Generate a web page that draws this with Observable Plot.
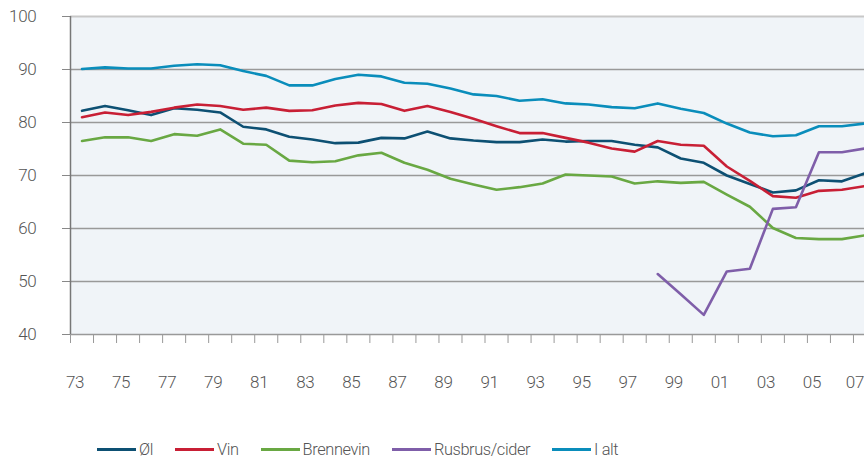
<!DOCTYPE html>
<html>
<head>
<meta charset="utf-8">
<script src="https://cdn.jsdelivr.net/npm/d3@7"></script>
<script src="https://cdn.jsdelivr.net/npm/@observablehq/plot@0.6"></script>
<style>
  html, body { margin: 0; padding: 0; background: #fff; overflow: hidden; width: 864px; height: 459px; }
  #chart { width: 876px; height: 400px; overflow: hidden; }
  #chart svg { display: block; max-width: none !important; width: 876px !important; height: 400px !important; }
  .legend { display: flex; align-items: center; gap: 22px; padding-left: 97px; margin-top: 39px; height: 20px;
    font-family: Roboto, sans-serif; font-weight: 300; font-size: 16.4px; letter-spacing: -0.4px; color: #555; }
  .legend .item { display: flex; align-items: center; gap: 3px; }
  .legend .sw { width: 39px; height: 3px; }
</style>
</head>
<body>
<div id="chart"></div>
<div class="legend" id="legend"></div>
<script>
const years = d3.range(1973, 2008);
const seriesNames = ["Øl", "Vin", "Brennevin", "Rusbrus/cider", "I alt"];
const colors = ["#0d5073", "#c81f35", "#69a843", "#7f5ea9", "#0a8dbb"];

const ol = [82.2, 83.1, 82.3, 81.4, 82.7, 82.4, 81.9, 79.2, 78.7, 77.3, 76.8, 76.1, 76.2, 77.1, 77.0,
  78.3, 77.0, 76.6, 76.3, 76.3, 76.8, 76.4, 76.5, 76.5, 75.8, 75.3, 73.2, 72.4, 70.0, 68.4, 66.8, 67.2, 69.1, 68.9, 70.4];
const vin = [81.0, 81.9, 81.4, 82.0, 82.8, 83.4, 83.1, 82.4, 82.8, 82.2, 82.3, 83.2, 83.7, 83.5, 82.2,
  83.1, 82.0, 80.7, 79.3, 78.0, 78.0, 77.1, 76.2, 75.1, 74.5, 76.5, 75.8, 75.6, 71.7, 69.0, 66.1, 65.8, 67.1, 67.3, 68.0];
const brennevin = [76.5, 77.2, 77.2, 76.5, 77.8, 77.5, 78.7, 76.0, 75.8, 72.8, 72.5, 72.7, 73.8, 74.3, 72.4,
  71.1, 69.4, 68.3, 67.3, 67.8, 68.5, 70.2, 70.0, 69.8, 68.5, 68.9, 68.6, 68.8, 66.4, 64.1, 60.1, 58.2, 58.0, 58.0, 58.7];
const rusbrus = [null, null, null, null, null, null, null, null, null, null, null, null, null, null, null,
  null, null, null, null, null, null, null, null, null, null, 51.4, 47.6, 43.7, 51.9, 52.4, 63.7, 64.0, 74.4, 74.4, 75.1];
const ialt = [90.1, 90.4, 90.2, 90.2, 90.7, 91.0, 90.8, 89.7, 88.8, 87.0, 87.0, 88.2, 89.0, 88.7, 87.5,
  87.3, 86.4, 85.3, 85.0, 84.1, 84.4, 83.6, 83.4, 82.9, 82.7, 83.6, 82.6, 81.8, 79.8, 78.1, 77.4, 77.6, 79.3, 79.3, 79.8];

const yTicks = [40, 50, 60, 70, 80, 90, 100];
const xLabelYears = d3.range(1973, 2006, 2);
const xLastLabel = [2007];
const xLabel = y => String(y % 100).padStart(2, "0");

const allSeries = [ol, vin, brennevin, rusbrus, ialt];
const rows = [];
allSeries.forEach((vals, si) => {
  years.forEach((yr, i) => {
    if (vals[i] != null) rows.push({series: seriesNames[si], year: yr, value: vals[i]});
  });
});
const bounds = d3.range(1972.5, 2008, 1);

const fontFam = 'Roboto, sans-serif';

const chart = Plot.plot({
  width: 876,
  height: 400,
  marginLeft: 70,
  marginRight: 0,
  marginTop: 16,
  marginBottom: 66,
  style: {fontFamily: fontFam, fontSize: "17px", fontWeight: 300, letterSpacing: "-0.3px", color: "#555", background: "transparent"},
  x: {domain: [1972.5, 2007.5]},
  y: {domain: [40, 100]},
  color: {domain: seriesNames, range: colors},
  marks: [
    Plot.frame({fill: "#f0f4f8", stroke: null}),
    Plot.axisY(yTicks, {tickSize: 8, tickPadding: 26, stroke: "#888", fill: "#555", label: null, fontSize: 17}),
    Plot.ruleY(yTicks, {stroke: d => d === 100 ? "#c8c8c8" : "#999", strokeWidth: d => d === 100 ? 2 : 1.5}),
    Plot.ruleX([1972.5], {y1: 40, y2: 100, stroke: "#777", strokeWidth: 1.5}),
    Plot.axisX(bounds, {tickSize: 9, tickFormat: () => "", stroke: "#999", label: null}),
    Plot.axisX(xLabelYears, {tickSize: 0, tickPadding: 41, tickFormat: xLabel, dx: -7, fill: "#555", label: null, fontSize: 17}),
    Plot.axisX(xLastLabel, {tickSize: 0, tickPadding: 41, tickFormat: xLabel, dx: -10, fill: "#555", label: null, fontSize: 17}),
    Plot.line(rows, {x: "year", y: "value", z: "series", stroke: "series", strokeWidth: 2.6, curve: "linear"})
  ]
});
document.getElementById("chart").appendChild(chart);

const legend = document.getElementById("legend");
seriesNames.forEach((name, i) => {
  const item = document.createElement("div");
  item.className = "item";
  const sw = document.createElement("div");
  sw.className = "sw";
  sw.style.background = colors[i];
  const t = document.createElement("span");
  t.textContent = name;
  item.appendChild(sw);
  item.appendChild(t);
  legend.appendChild(item);
});
</script>
</body>
</html>
